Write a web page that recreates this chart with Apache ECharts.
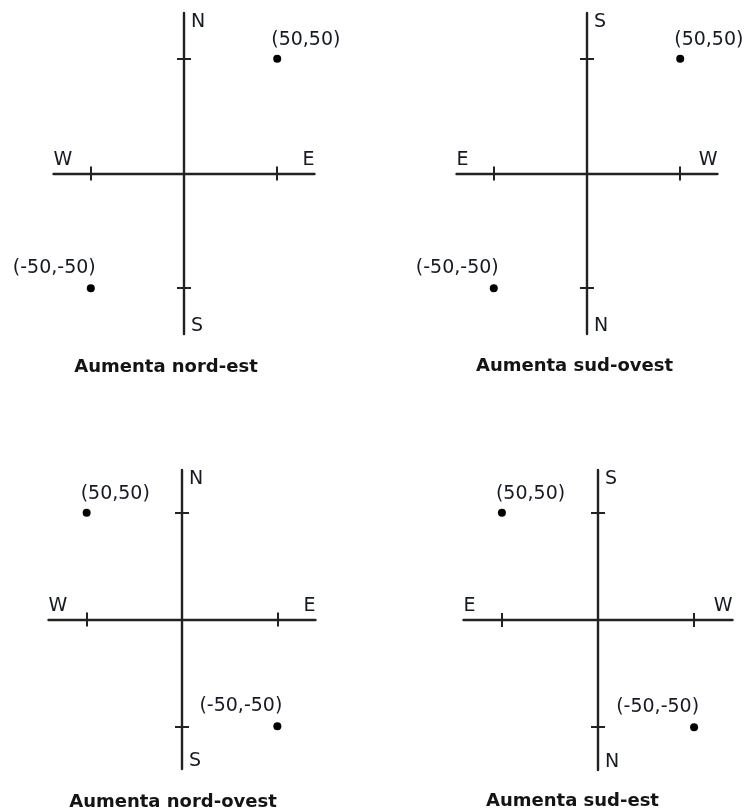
<!DOCTYPE html>
<html>
<head>
<meta charset="utf-8">
<script src="https://cdn.jsdelivr.net/npm/echarts@6/dist/echarts.min.js"></script>
<style>
  html, body { margin: 0; padding: 0; background: #ffffff; }
  #chart { width: 747px; height: 812px; }
</style>
</head>
<body>
<div id="chart"></div>
<script>
// ---- data ----
const points = [[50, 50], [-50, -50]];
const tickValues = [-50, 50];
const titles = ['Aumenta nord-est', 'Aumenta sud-ovest', 'Aumenta nord-ovest', 'Aumenta sud-est'];
const xNames = [['W', 'E'], ['E', 'W'], ['E', 'W'], ['W', 'E']];   // [min side, max side]
const yNames = [['S', 'N'], ['N', 'S'], ['S', 'N'], ['N', 'S']];   // [min side, max side]
const xInverse = [false, false, true, true];

// ---- layout ----
const grids = [
  { left: 53.5, top: 13, width: 261, height: 321 },
  { left: 456.5, top: 13, width: 261, height: 321 },
  { left: 48.5, top: 470, width: 267, height: 299 },
  { left: 463.5, top: 470, width: 269, height: 300 }
];
const titlePos = [
  { cx: 166, top: 358 },
  { cx: 574.5, top: 357 },
  { cx: 173, top: 793 },
  { cx: 572.5, top: 792 }
];
const AX = 70;
const lineColor = '#222222';
const textColor = '#161a24';
const labelFont = 'DejaVu Sans';

const chart = echarts.init(document.getElementById('chart'), null, { renderer: 'canvas' });

const option = {
  backgroundColor: '#ffffff',
  animation: false,
  title: [],
  grid: [],
  xAxis: [],
  yAxis: [],
  series: []
};

grids.forEach((g, i) => {
  option.grid.push(Object.assign({ containLabel: false, outerBoundsMode: 'none' }, g));
  const inv = xInverse[i];
  const nameStyleX = (align) => ({
    fontFamily: labelFont, fontSize: 19, color: textColor,
    align: align, verticalAlign: 'bottom', padding: [0, 0, 4, 0]
  });
  const nameStyleY = {
    fontFamily: labelFont, fontSize: 19, color: textColor,
    align: 'left', verticalAlign: 'middle', padding: [0, 0, 0, 7]
  };
  const baseX = {
    type: 'value', gridIndex: i, min: -AX, max: AX, inverse: inv,
    splitLine: { show: false }, axisLabel: { show: false },
    nameMoveOverlap: false
  };
  option.xAxis.push(Object.assign({}, baseX, {
    position: 'bottom',
    axisLine: { show: true, onZero: true, lineStyle: { color: lineColor, width: 2.4 } },
    axisTick: { show: true, inside: false, length: 7, customValues: tickValues, lineStyle: { color: lineColor, width: 2 } },
    name: xNames[i][1], nameLocation: 'end', nameGap: 0,
    nameTextStyle: nameStyleX(inv ? 'left' : 'right')
  }));
  option.xAxis.push(Object.assign({}, baseX, {
    position: 'top',
    axisLine: { show: false, onZero: true },
    axisTick: { show: true, inside: false, length: 7, customValues: tickValues, lineStyle: { color: lineColor, width: 2 } },
    name: xNames[i][0], nameLocation: 'start', nameGap: 0,
    nameTextStyle: nameStyleX(inv ? 'right' : 'left')
  }));
  const baseY = {
    type: 'value', gridIndex: i, min: -AX, max: AX,
    splitLine: { show: false }, axisLabel: { show: false },
    nameMoveOverlap: false
  };
  option.yAxis.push(Object.assign({}, baseY, {
    position: 'left',
    axisLine: { show: true, onZero: true, lineStyle: { color: lineColor, width: 2.4 } },
    axisTick: { show: true, inside: false, length: 7, customValues: tickValues, lineStyle: { color: lineColor, width: 2 } },
    name: yNames[i][1], nameLocation: 'end', nameGap: -9,
    nameTextStyle: nameStyleY
  }));
  option.yAxis.push(Object.assign({}, baseY, {
    position: 'right',
    axisLine: { show: false, onZero: true },
    axisTick: { show: true, inside: false, length: 7, customValues: tickValues, lineStyle: { color: lineColor, width: 2 } },
    name: yNames[i][0], nameLocation: 'start', nameGap: -7.5,
    nameTextStyle: nameStyleY
  }));

  option.series.push({
    type: 'scatter',
    xAxisIndex: 2 * i,
    yAxisIndex: 2 * i,
    symbol: 'circle',
    symbolSize: 8,
    itemStyle: { color: '#000000', opacity: 1 },
    label: {
      show: true,
      position: 'top',
      fontFamily: labelFont,
      fontSize: 19,
      color: textColor,
      opacity: 1,
      formatter: (p) => '(' + p.value[0] + ',' + p.value[1] + ')'
    },
    data: points.map((pt) => ({
      value: pt,
      label: pt[0] > 0 ? { align: 'left', offset: [-6, 0] } : { align: 'right', offset: [5, -2] }
    }))
  });

  option.title.push({
    text: titles[i],
    left: titlePos[i].cx,
    top: titlePos[i].top,
    textAlign: 'center',
    padding: 0,
    textStyle: { fontFamily: 'DejaVu Sans', fontWeight: 'bold', fontSize: 18, color: '#141414' }
  });
});

chart.setOption(option);
</script>
</body>
</html>
